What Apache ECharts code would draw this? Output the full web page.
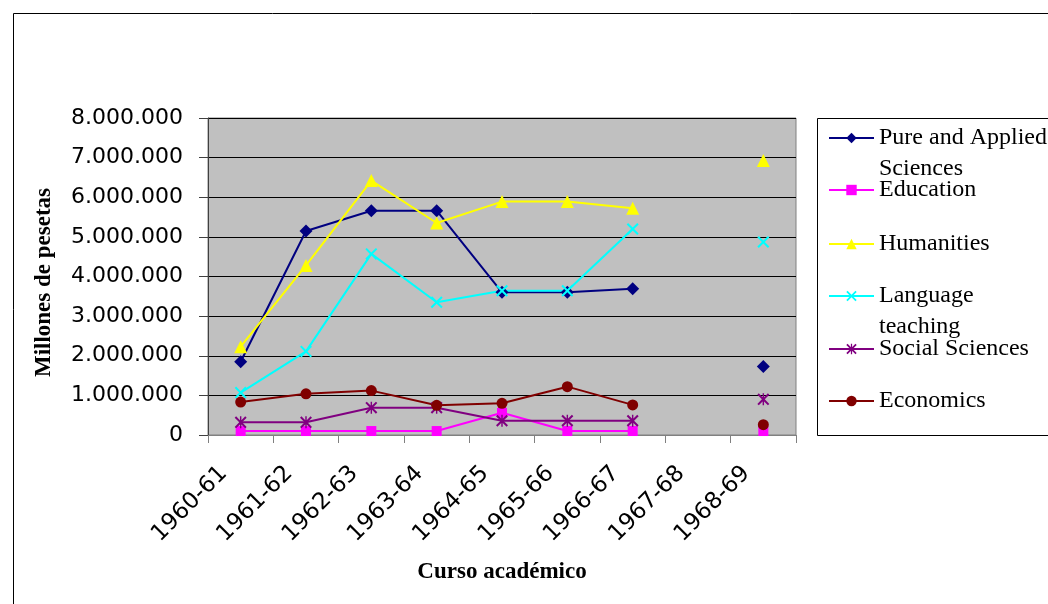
<!DOCTYPE html>
<html>
<head>
<meta charset="utf-8">
<script src="https://cdn.jsdelivr.net/npm/echarts@6/dist/echarts.min.js"></script>
<style>
  html, body { margin: 0; padding: 0; background: #fff; }
  #chart { width: 1048px; height: 604px; }
</style>
</head>
<body>
<div id="chart"></div>
<script>
// Academic years on the category axis
const courses = ['1960-61', '1961-62', '1962-63', '1963-64', '1964-65', '1965-66', '1966-67', '1967-68', '1968-69'];

// Funding per field, in pesetas (no data for 1967-68)
const pureApplied      = [1850000, 5150000, 5660000, 5660000, 3600000, 3600000, 3690000, null, 1730000];
const education        = [100000, 100000, 100000, 100000, 560000, 100000, 100000, null, 100000];
const humanities       = [2230000, 4280000, 6420000, 5350000, 5890000, 5890000, 5720000, null, 6930000];
const languageTeaching = [1070000, 2110000, 4570000, 3350000, 3640000, 3640000, 5200000, null, 4870000];
const socialSciences   = [320000, 320000, 690000, 690000, 360000, 360000, 360000, null, 900000];
const economics        = [830000, 1040000, 1120000, 750000, 800000, 1220000, 760000, null, 260000];

const seriesNames = ['Pure and Applied Sciences', 'Education', 'Humanities', 'Language teaching', 'Social Sciences', 'Economics'];
const legendLines = {
  'Pure and Applied Sciences': ['Pure and Applied', 'Sciences'],
  'Language teaching': ['Language', 'teaching']
};

// Marker shapes drawn as filled outlines
const crossPath = 'path://M0,1.2L1.2,0L5,3.8L8.8,0L10,1.2L6.2,5L10,8.8L8.8,10L5,6.2L1.2,10L0,8.8L3.8,5Z';
const starPath = 'path://M0,1.2L1.2,0L5,3.8L8.8,0L10,1.2L6.2,5L10,8.8L8.8,10L5,6.2L1.2,10L0,8.8L3.8,5Z M4.4,0L5.6,0L5.6,10L4.4,10Z';

const chart = echarts.init(document.getElementById('chart'), null, { renderer: 'canvas' });

function makeSeries(name, data, color, symbol, size) {
  return {
    name: name,
    type: 'line',
    data: data,
    symbol: symbol,
    symbolSize: size,
    showSymbol: true,
    showAllSymbol: true,
    connectNulls: false,
    animation: false,
    lineStyle: { color: color, width: 2 },
    itemStyle: { color: color, borderWidth: 0 },
    emphasis: { disabled: true }
  };
}

const legendY = [138, 190, 244, 296, 349, 401];
const legends = seriesNames.map(function (name, i) {
  const twoLine = !!legendLines[name];
  return {
    data: [name],
    left: 828,
    top: twoLine ? legendY[i] - 46.5 : legendY[i] - 15.5,
    orient: 'vertical',
    padding: 0,
    itemWidth: 45,
    itemHeight: 13,
    itemGap: 0,
    selectedMode: false,
    formatter: function (n) {
      const l = legendLines[n];
      return l ? ' \n' + l[0] + '\n' + l[1] : n;
    },
    textStyle: {
      fontFamily: 'Liberation Serif',
      fontSize: 24,
      lineHeight: 31,
      color: '#000'
    }
  };
});

const option = {
  backgroundColor: '#ffffff',
  animation: false,
  grid: {
    left: 208,
    right: 252,
    top: 118,
    bottom: 169,
    show: true,
    backgroundColor: '#c0c0c0',
    borderColor: '#808080',
    borderWidth: 1,
    outerBoundsMode: 'none',
    containLabel: false
  },
  legend: legends,
  xAxis: {
    type: 'category',
    data: courses,
    boundaryGap: true,
    name: 'Curso académico',
    nameLocation: 'middle',
    nameGap: 126,
    nameTextStyle: {
      fontFamily: 'Liberation Serif',
      fontWeight: 'bold',
      fontSize: 23,
      color: '#000'
    },
    axisLine: { show: true, lineStyle: { color: '#808080', width: 1 } },
    axisTick: { show: true, alignWithLabel: false, length: 8, lineStyle: { color: '#808080' } },
    axisLabel: {
      interval: 0,
      rotate: 45,
      margin: 18,
      padding: [0, 24, 0, 0],
      fontFamily: 'DejaVu Sans',
      fontSize: 23,
      color: '#000'
    },
    splitLine: { show: false }
  },
  yAxis: {
    type: 'value',
    min: 0,
    max: 8000000,
    interval: 1000000,
    name: 'Millones de pesetas',
    nameLocation: 'middle',
    nameRotate: 90,
    nameGap: 152,
    nameTextStyle: {
      fontFamily: 'Liberation Serif',
      fontWeight: 'bold',
      fontSize: 23,
      color: '#000',
      padding: [0, 12, 0, 0]
    },
    axisLine: { show: true, lineStyle: { color: '#404040', width: 1 } },
    axisTick: { show: true, length: 9, lineStyle: { color: '#404040' } },
    axisLabel: {
      margin: 25,
      fontFamily: 'DejaVu Sans',
      fontSize: 22,
      color: '#000',
      formatter: function (v) {
        return String(v).replace(/\B(?=(\d{3})+(?!\d))/g, '.');
      }
    },
    splitLine: { show: true, lineStyle: { color: '#000', width: 1 } }
  },
  graphic: [
    {
      type: 'rect',
      z: -1,
      silent: true,
      shape: { x: 13.5, y: 13.5, width: 1100, height: 700 },
      style: { fill: 'none', stroke: '#000', lineWidth: 1 }
    },
    {
      type: 'rect',
      z: -1,
      silent: true,
      shape: { x: 817.5, y: 118.5, width: 300, height: 317 },
      style: { fill: 'none', stroke: '#000', lineWidth: 1 }
    }
  ],
  series: [
    makeSeries(seriesNames[0], pureApplied, '#000080', 'diamond', 13),
    makeSeries(seriesNames[1], education, '#ff00ff', 'rect', 10),
    makeSeries(seriesNames[2], humanities, '#ffff00', 'triangle', 13),
    makeSeries(seriesNames[3], languageTeaching, '#00ffff', crossPath, 12),
    makeSeries(seriesNames[4], socialSciences, '#800080', starPath, 12),
    makeSeries(seriesNames[5], economics, '#800000', 'circle', 11)
  ]
};

chart.setOption(option);
</script>
</body>
</html>
